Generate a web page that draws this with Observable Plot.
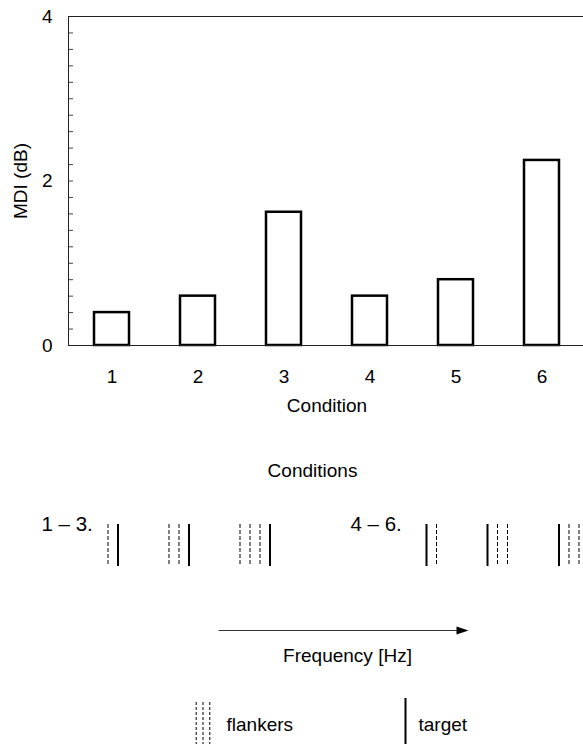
<!DOCTYPE html>
<html>
<head>
<meta charset="utf-8">
<script src="https://cdn.jsdelivr.net/npm/d3@7"></script>
<script src="https://cdn.jsdelivr.net/npm/@observablehq/plot@0.6"></script>
<style>
  body { margin: 0; background: #fff; }
  #chart svg { display: block; }
</style>
</head>
<body>
<div id="chart"></div>
<script>
// ---- data ----
const conditions = [1, 2, 3, 4, 5, 6];
const mdi = [0.40, 0.60, 1.62, 0.60, 0.80, 2.25];
const yMajorTicks = [0, 2, 4];
const yMinorTicks = [0.2, 0.4, 0.6, 0.8, 1.0, 1.2, 1.4, 1.6, 1.8, 2.0, 2.2, 2.4, 2.6, 2.8, 3.0, 3.2, 3.4, 3.6, 3.8];
const yLabel = "MDI (dB)";
const xLabel = "Condition";

// schematic of the conditions (frequency in arbitrary units)
const diagramTitle = "Conditions";
const groupLabels = ["1 – 3.", "4 – 6."];
const targetFreqs = [11.75, 18.85, 26.95, 42.6, 48.7, 55.85];
const flankerCounts = [1, 2, 3, 1, 2, 3];
const flankerSide = [-1, -1, -1, 1, 1, 1];
const flankerSpacing = 1.0;
const axisLabel = "Frequency [Hz]";
const legendLabels = ["flankers", "target"];

// ---- chart ----
const FONT = "'Liberation Sans', Arial, Helvetica, sans-serif";
const bars = conditions.map((c, i) => ({cond: c, mdi: mdi[i]}));

const topPlot = Plot.plot({
  width: 583,
  height: 420,
  marginTop: 16,
  marginBottom: 75,
  marginLeft: 68,
  marginRight: -2,
  style: {fontFamily: FONT, fontSize: "19px", color: "#000", background: "#fff"},
  x: {type: "band", domain: conditions, paddingInner: 0.594, paddingOuter: 0.297, label: null},
  y: {domain: [0, 4], label: null},
  marks: [
    Plot.axisY({ticks: yMinorTicks, tickSize: 5, dx: 5, tickFormat: () => "", stroke: "#444", label: null}),
    Plot.axisY({ticks: yMajorTicks, tickSize: 0, tickPadding: 16, tickFormat: d => String(d), fontSize: 19, label: null}),
    Plot.axisX({tickSize: 0, tickPadding: 24, fontSize: 19, label: null}),
    Plot.barY(bars, {x: "cond", y: "mdi", fill: "white", stroke: "#000", strokeWidth: 2.5}),
    Plot.frame({stroke: "#222"}),
    Plot.text([yLabel], {frameAnchor: "left", dx: -48, rotate: -90, textAnchor: "middle", text: d => d, fontSize: 19}),
    Plot.text([xLabel], {frameAnchor: "bottom", dy: 66, text: d => d, fontSize: 19})
  ]
});

// lines of the schematic
const targets = targetFreqs.map(f => ({f}));
const flankers = [];
conditions.forEach((c, i) => {
  for (let k = 1; k <= flankerCounts[i]; k++) {
    flankers.push({f: targetFreqs[i] + flankerSide[i] * k * flankerSpacing});
  }
});

const arrowHead = {
  draw(ctx) {
    ctx.moveTo(6, 0);
    ctx.lineTo(-6, -4);
    ctx.lineTo(-6, 4);
    ctx.closePath();
  }
};

const lineTop = 104, lineBottom = 146;
const legendFlankers = [19.57, 20.25, 20.93].map(f => ({f}));

const bottomPlot = Plot.plot({
  width: 583,
  height: 324,
  margin: 0,
  style: {fontFamily: FONT, fontSize: "19px", color: "#000", background: "#fff"},
  x: {domain: [0, 58.3], axis: null},
  y: {domain: [0, 324], range: [0, 324], axis: null},
  marks: [
    Plot.text([diagramTitle], {x: () => 31.2, y: () => 50, text: d => d, fontSize: 19}),
    Plot.text(groupLabels, {x: (d, i) => [4.1, 35.0][i], y: () => 104, text: d => d, textAnchor: "start", fontSize: 20.5}),
    Plot.ruleX(flankers, {x: "f", y1: () => lineTop, y2: () => lineBottom, stroke: "#000", strokeWidth: 1, strokeDasharray: "4,2"}),
    Plot.ruleX(targets, {x: "f", y1: () => lineTop, y2: () => lineBottom, stroke: "#000", strokeWidth: 2}),
    Plot.link([{x1: 21.8, x2: 45.7, y: 210}], {x1: "x1", x2: "x2", y1: "y", y2: "y", stroke: "#333", strokeWidth: 1}),
    Plot.dot([{x: 46.2, y: 210}], {x: "x", y: "y", symbol: arrowHead, fill: "#000", stroke: null}),
    Plot.text([axisLabel], {x: () => 34.7, y: () => 235, text: d => d, fontSize: 19}),
    // legend
    Plot.ruleX(legendFlankers, {x: "f", y1: () => 282, y2: () => 324, stroke: "#000", strokeWidth: 1, strokeDasharray: "3,2"}),
    Plot.text([legendLabels[0]], {x: () => 22.6, y: () => 304, text: d => d, textAnchor: "start", fontSize: 19}),
    Plot.ruleX([{f: 40.5}], {x: "f", y1: () => 278, y2: () => 324, stroke: "#000", strokeWidth: 2}),
    Plot.text([legendLabels[1]], {x: () => 41.8, y: () => 304, text: d => d, textAnchor: "start", fontSize: 19})
  ]
});

const root = document.getElementById("chart");
root.appendChild(topPlot);
root.appendChild(bottomPlot);
</script>
</body>
</html>
